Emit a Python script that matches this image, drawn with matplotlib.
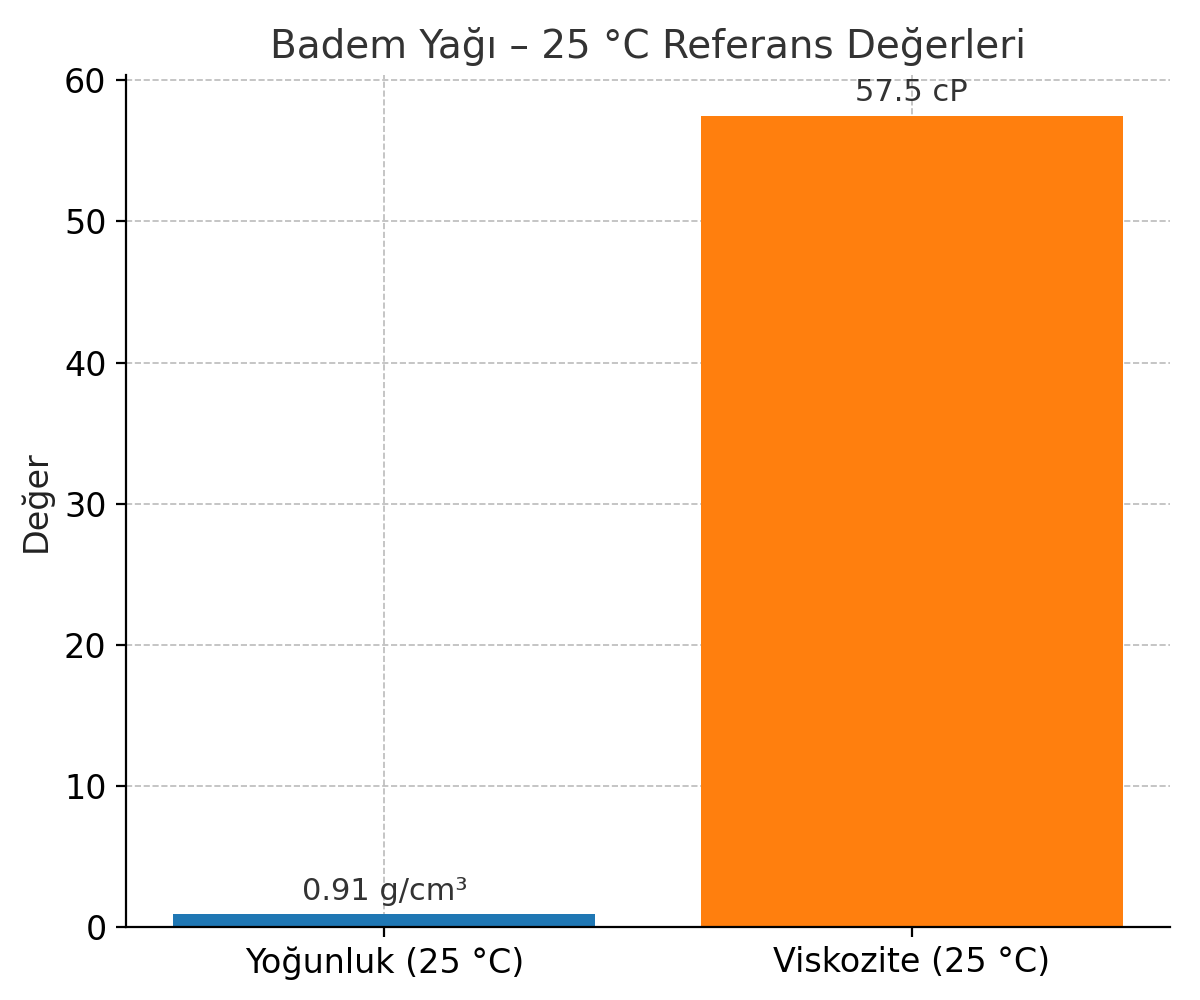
import matplotlib.pyplot as plt

categories = ["Yoğunluk (25 °C)", "Viskozite (25 °C)"]
values = [0.91, 57.5]
labels = ["0.91 g/cm³", "57.5 cP"]
colors = ["#1f77b4", "#ff7f0e"]

fig, ax = plt.subplots(figsize=(6, 5), dpi=200)
bars = ax.bar(categories, values, color=colors, width=0.8, zorder=2)

for b, lab in zip(bars, labels):
    ax.annotate(lab, (b.get_x() + b.get_width() / 2, b.get_height()),
                xytext=(0, 3), textcoords="offset points",
                ha="center", va="bottom", fontsize=11, color="#333333")

ax.set_title("Badem Yağı – 25 °C Referans Değerleri", fontsize=14, color="#333333")
ax.set_ylabel("Değer", fontsize=12, color="#222222")
ax.tick_params(labelsize=12)
ax.grid(True, linestyle="--", color="#bbbbbb", linewidth=0.6, zorder=0)
ax.spines["top"].set_visible(False)
ax.spines["right"].set_visible(False)

plt.subplots_adjust(left=0.105, right=0.975, top=0.925, bottom=0.073)
plt.savefig("out.png")
